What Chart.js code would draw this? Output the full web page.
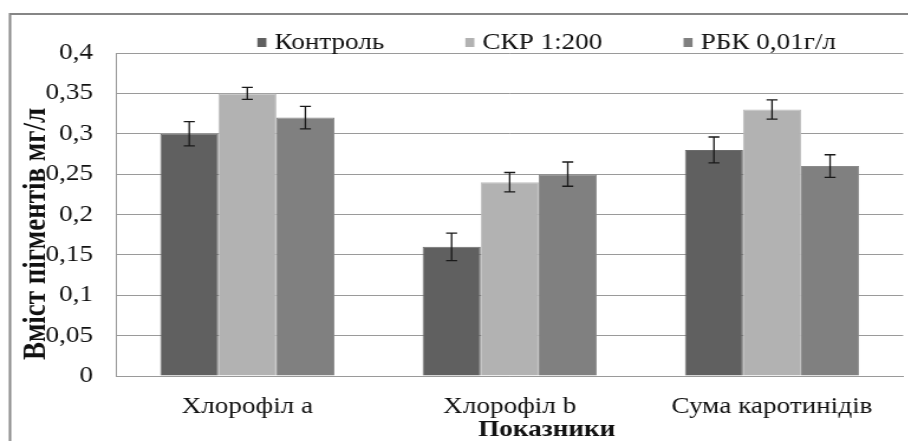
<!DOCTYPE html>
<html>
<head>
<meta charset="utf-8">
<script src="https://cdn.jsdelivr.net/npm/chart.js@4.4.0/dist/chart.umd.min.js"></script>
<style>
  html, body { margin: 0; padding: 0; background: #fff; overflow: hidden; }
  #wrap { position: absolute; left: 0; top: 0; height: 441px; transform-origin: 0 0; }
</style>
</head>
<body>
<div id="wrap"><canvas id="chart"></canvas></div>
<script>
// The source picture is stretched horizontally, so the chart is drawn narrower and scaled back out
const STRETCH = 1.18;
const PAGE_W = 908;
const PAGE_H = 441;

// Data
const categories = ['Хлорофіл а', 'Хлорофіл b', 'Сума каротинідів'];
const seriesNames = ['Контроль', 'СКР 1:200', 'РБК 0,01г/л'];
const controlValues = [0.30, 0.16, 0.28];
const skrValues = [0.35, 0.24, 0.33];
const rbkValues = [0.32, 0.25, 0.26];
const controlErrors = [0.015, 0.017, 0.016];
const skrErrors = [0.0075, 0.012, 0.012];
const rbkErrors = [0.014, 0.015, 0.014];
const yTitle = 'Вміст пігментів мг/л';
const xTitle = 'Показники';

const seriesColors = ['#606060', '#b2b2b2', '#808080'];
const seriesEdges = ['#6c6c6c', '#bdbdbd', '#8b8b8b'];
const FONT = "'Liberation Serif', 'Times New Roman', serif";

// plot box in page pixels
const PLOT_LEFT = 116;
const PLOT_RIGHT = 902;
const PLOT_TOP = 53;
const PLOT_BOTTOM = 376;

const wrap = document.getElementById('wrap');
wrap.style.width = (PAGE_W / STRETCH) + 'px';
wrap.style.transform = `scaleX(${STRETCH})`;

const sx = (v) => v / STRETCH;

const formatTick = (v) => Number(v.toFixed(2)).toString().replace('.', ',');

const frameAndTitles = {
  id: 'frameAndTitles',
  beforeDraw(chart) {
    const { ctx } = chart;
    ctx.save();
    ctx.fillStyle = '#fff';
    ctx.fillRect(0, 0, chart.width, chart.height);
    ctx.strokeStyle = '#868686';
    ctx.lineWidth = 2;
    ctx.strokeRect(sx(10), 14, chart.width + 20, chart.height + 20);
    ctx.restore();
  },
  afterDraw(chart) {
    const { ctx } = chart;
    ctx.save();
    ctx.fillStyle = '#111';

    // legend
    ctx.font = `23px ${FONT}`;
    ctx.textBaseline = 'middle';
    let x = sx(257);
    chart.data.datasets.forEach((ds) => {
      ctx.fillStyle = ds.backgroundColor;
      ctx.fillRect(x, 38, sx(9), 9);
      ctx.fillStyle = '#111';
      ctx.fillText(ds.label, x + sx(17), 43);
      x += sx(17) + ctx.measureText(ds.label).width + sx(81);
    });

    // axis titles
    ctx.font = `bold 23px ${FONT}`;
    ctx.textAlign = 'center';
    ctx.textBaseline = 'alphabetic';
    ctx.fillText(xTitle, sx(546), 436);
    ctx.font = `bold 27px ${FONT}`;
    ctx.translate(sx(45), 234);
    ctx.rotate(-Math.PI / 2);
    ctx.fillText(yTitle, 0, 0);
    ctx.restore();
  }
};

const errorBars = {
  id: 'errorBars',
  afterDatasetsDraw(chart) {
    const { ctx } = chart;
    const yScale = chart.scales.y;
    ctx.save();
    ctx.strokeStyle = '#1a1a1a';
    ctx.lineWidth = 1.3;
    chart.data.datasets.forEach((ds, i) => {
      const meta = chart.getDatasetMeta(i);
      meta.data.forEach((bar, j) => {
        const v = ds.data[j];
        const e = ds.errors[j];
        const top = yScale.getPixelForValue(v + e);
        const bottom = yScale.getPixelForValue(v - e);
        const half = sx(5.5);
        ctx.beginPath();
        ctx.moveTo(bar.x, top);
        ctx.lineTo(bar.x, bottom);
        ctx.moveTo(bar.x - half, top);
        ctx.lineTo(bar.x + half, top);
        ctx.moveTo(bar.x - half, bottom);
        ctx.lineTo(bar.x + half, bottom);
        ctx.stroke();
      });
    });
    ctx.restore();
  }
};

const valueSets = [controlValues, skrValues, rbkValues];
const errorSets = [controlErrors, skrErrors, rbkErrors];

new Chart(document.getElementById('chart'), {
  type: 'bar',
  data: {
    labels: categories,
    datasets: seriesNames.map((name, i) => ({
      label: name,
      data: valueSets[i],
      errors: errorSets[i],
      backgroundColor: seriesColors[i],
      borderColor: seriesEdges[i],
      borderWidth: 1,
      categoryPercentage: 0.664,
      barPercentage: 1
    }))
  },
  options: {
    responsive: true,
    maintainAspectRatio: false,
    animation: false,
    devicePixelRatio: 1,
    layout: {
      padding: { top: PLOT_TOP, right: sx(PAGE_W - PLOT_RIGHT), bottom: 0, left: 0 }
    },
    plugins: {
      legend: { display: false },
      tooltip: { enabled: false }
    },
    scales: {
      x: {
        grid: { display: false, drawTicks: false },
        border: { display: true, color: '#9a9a9a', width: 1 },
        ticks: {
          color: '#111',
          font: { family: FONT, size: 23 },
          padding: 17,
          maxRotation: 0
        },
        afterFit(scale) { scale.height = PAGE_H - PLOT_BOTTOM; }
      },
      y: {
        min: 0,
        max: 0.4,
        grid: { color: '#9a9a9a', lineWidth: 1, drawTicks: false },
        border: { display: true, color: '#9a9a9a', width: 1 },
        ticks: {
          stepSize: 0.05,
          color: '#111',
          font: { family: FONT, size: 23 },
          padding: sx(23),
          callback: (v) => formatTick(v)
        },
        afterFit(scale) { scale.width = sx(PLOT_LEFT); }
      }
    }
  },
  plugins: [frameAndTitles, errorBars]
});
</script>
</body>
</html>
